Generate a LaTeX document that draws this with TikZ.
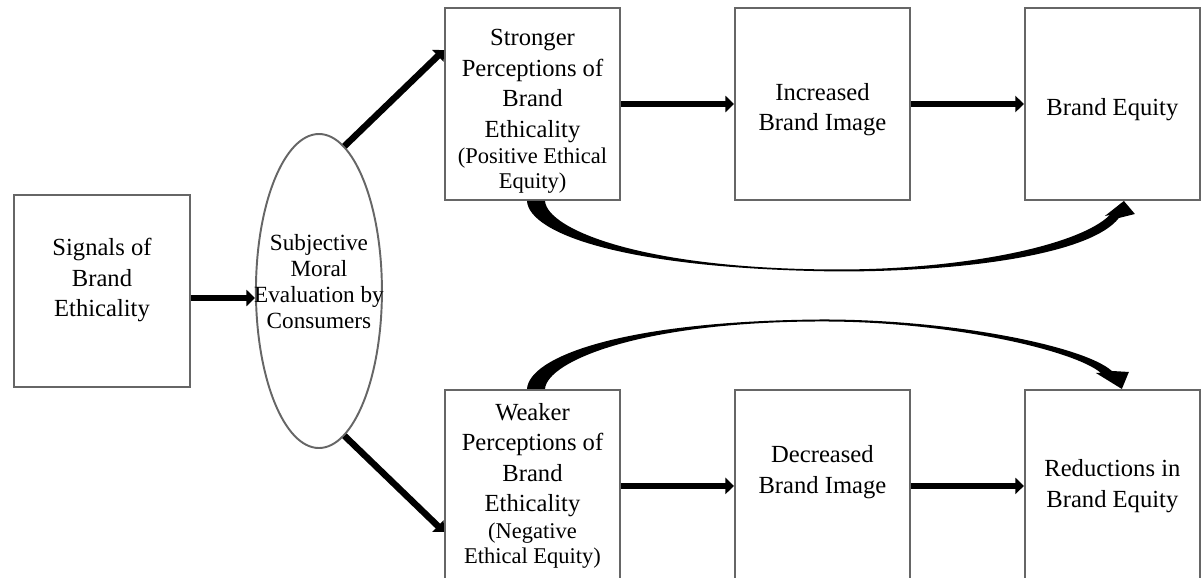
\documentclass[tikz,border=0pt]{standalone}
\usepackage{fontspec}
\setmainfont{Liberation Serif}
\usepackage{tikz}
\usetikzlibrary{positioning,calc}
\usetikzlibrary{shapes.geometric, arrows.meta}
\newcommand{\boxfont}{\fontsize{14}{17.3}\selectfont}
\newcommand{\parenfont}{\fontsize{12.8}{14.6}\selectfont}
\newcommand{\ovalfont}{\fontsize{13.2}{14.8}\selectfont}
\newcommand{\lift}[1]{\rule{0pt}{#1}}
\tikzstyle{block} = [draw=black!60, line width=1.1pt, rectangle,
    minimum width=3.5cm, minimum height=3.84cm, align=center, font=\boxfont]
\tikzstyle{oval} = [draw=black!60, line width=1.1pt, ellipse,
    minimum width=2.52cm, minimum height=6.28cm]
\tikzstyle{ovaltext} = [align=center, font=\ovalfont, inner sep=0pt]
\tikzstyle{arrow} = [line width=0.13cm, -{Triangle[length=0.17cm, width=0.32cm]}]

\begin{document}
\begin{tikzpicture}[node distance=2.26cm]
    \useasboundingbox (0,0) rectangle (24.08,-11.54);
    % the source box and the evaluation oval
    \node [block, minimum width=3.52cm, text depth=0.54cm] (signals) at (2.04,-5.82)
        {Signals of\\Brand\\Ethicality};
    \node [oval, right=1.28cm of signals] (moral) {};
    \node [ovaltext] (moraltext) at ([yshift=0.18cm]moral.center)
        {Subjective\\Moral\\Evaluation by\\Consumers};

    % upper row
    \node [block] (stronger) at (10.65,-2.08)
        {\lift{0.63cm}Stronger\\Perceptions of\\Brand\\Ethicality\\[-0.07cm]
         {\parenfont (Positive Ethical}\\[-0.11cm]{\parenfont Equity)}};
    \node [block, right=of stronger] (increased) {\lift{0.57cm}Increased\\Brand Image};
    \node [block, right=of increased] (equity) {\lift{0.57cm}Brand Equity};

    % lower row
    \node [block, below=3.76cm of stronger] (weaker)
        {Weaker\\Perceptions of\\Brand\\Ethicality\\[-0.07cm]
         {\parenfont (Negative}\\[-0.11cm]{\parenfont Ethical Equity)}};
    \node [block, right=of weaker, text depth=0.66cm] (decreased) {Decreased\\Brand Image};
    \node [block, right=of decreased] (reductions) {Reductions in\\Brand Equity};

    % straight links
    \draw [arrow] ([yshift=-0.14cm]signals.east) -- ([yshift=-0.14cm]moral.west);
    \draw [arrow] (moral.80) -- ([yshift=1.08cm]stronger.west);
    \draw [arrow] (moral.-80) -- ([yshift=-0.92cm]weaker.west);
    \draw [arrow] (stronger) -- (increased);
    \draw [arrow] (increased) -- (equity);
    \draw [arrow] (weaker) -- (decreased);
    \draw [arrow] (decreased) -- (reductions);

    % tapered curved links
    \fill ($(stronger.south)+(0.25,0)$)
        .. controls +(0.04,-0.56) and +(-3.94,0) .. ($(stronger.south)!0.5!(equity.south)+(0.33,-1.37)$)
        .. controls +(2.46,0) and +(-0.62,-0.62) .. ($(equity.south)+(-0.05,-0.28)$)
        -- ($(equity.south)+(-0.15,-0.30)$)
        -- ($(equity.south)+(0.23,0)$)
        -- ($(equity.south)+(0.45,-0.26)$)
        -- ($(equity.south)+(0.13,-0.34)$)
        .. controls +(-0.54,-0.70) and +(2.66,0) .. ($(stronger.south)!0.5!(equity.south)+(0.33,-1.41)$)
        .. controls +(-4.34,0.05) and +(0.04,-0.64) .. ($(stronger.south)+(-0.11,0)$)
        -- cycle;
    \fill ($(weaker.north)+(-0.11,0)$)
        .. controls +(0.04,0.64) and +(-4.01,-0.03) .. ($(weaker.north)!0.5!(reductions.north)+(0,1.39)$)
        .. controls +(2.6,0) and +(-0.56,0.5) .. ($(reductions.north)+(-0.01,0.36)$)
        -- ($(reductions.north)+(0.33,0.34)$)
        -- ($(reductions.north)+(0.19,0)$)
        -- ($(reductions.north)+(-0.33,0.32)$)
        -- ($(reductions.north)+(-0.23,0.32)$)
        .. controls +(-0.5,0.44) and +(2.6,0) .. ($(weaker.north)!0.5!(reductions.north)+(0,1.35)$)
        .. controls +(-3.6,0) and +(0.04,0.56) .. ($(weaker.north)+(0.25,0)$)
        -- cycle;
\end{tikzpicture}
\end{document}
